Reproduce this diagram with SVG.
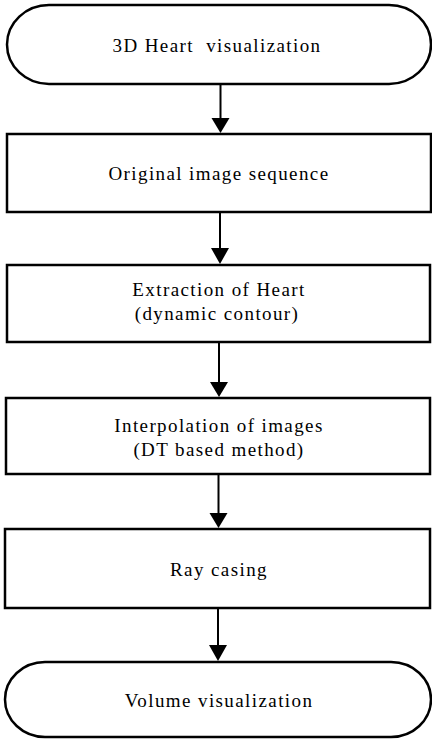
<svg xmlns="http://www.w3.org/2000/svg" width="432" height="741" viewBox="0 0 432 741">
<style>
.box{fill:#fff;stroke:#000;stroke-width:2.5}
.lbl{font-family:"Liberation Serif","Times New Roman",serif;font-size:19px;letter-spacing:1.4px;fill:#000;text-anchor:middle}
.conn{stroke:#000;stroke-width:2;fill:none}
.head{fill:#000}
</style>
<rect width="432" height="741" fill="#fff"/>
<g id="n1">
<rect class="box" x="7" y="5" width="424" height="79" rx="42" ry="39.5"/>
<text class="lbl" x="217" y="52">3D Heart&#160; visualization</text>
</g>
<g id="n2">
<rect class="box" x="7" y="134" width="424" height="78"/>
<text class="lbl" x="219" y="180">Original image sequence</text>
</g>
<g id="n3">
<rect class="box" x="7" y="265" width="423" height="77"/>
<text class="lbl" x="219" y="296">Extraction of Heart</text>
<text class="lbl" x="217" y="320">(dynamic contour)</text>
</g>
<g id="n4">
<rect class="box" x="6" y="398" width="424" height="76"/>
<text class="lbl" x="219" y="432">Interpolation of images</text>
<text class="lbl" x="219" y="456">(DT based method)</text>
</g>
<g id="n5">
<rect class="box" x="5" y="529" width="425" height="79"/>
<text class="lbl" x="219" y="576">Ray casing</text>
</g>
<g id="n6">
<rect class="box" x="5" y="662" width="426" height="75" rx="40" ry="37.5"/>
<text class="lbl" x="219" y="707">Volume visualization</text>
</g>
<g id="connectors">
<line class="conn" x1="220.5" y1="84" x2="220.5" y2="120"/>
<polygon class="head" points="211.5,118 229.5,118 220.5,133"/>
<line class="conn" x1="220" y1="212" x2="220" y2="250"/>
<polygon class="head" points="211,248 229,248 220,264"/>
<line class="conn" x1="219" y1="342" x2="219" y2="384"/>
<polygon class="head" points="210,382 228,382 219,397"/>
<line class="conn" x1="218.5" y1="474" x2="218.5" y2="515"/>
<polygon class="head" points="209.5,513 227.5,513 218.5,528"/>
<line class="conn" x1="218" y1="608" x2="218" y2="648"/>
<polygon class="head" points="209,645 227,645 218,661"/>
</g>
</svg>
